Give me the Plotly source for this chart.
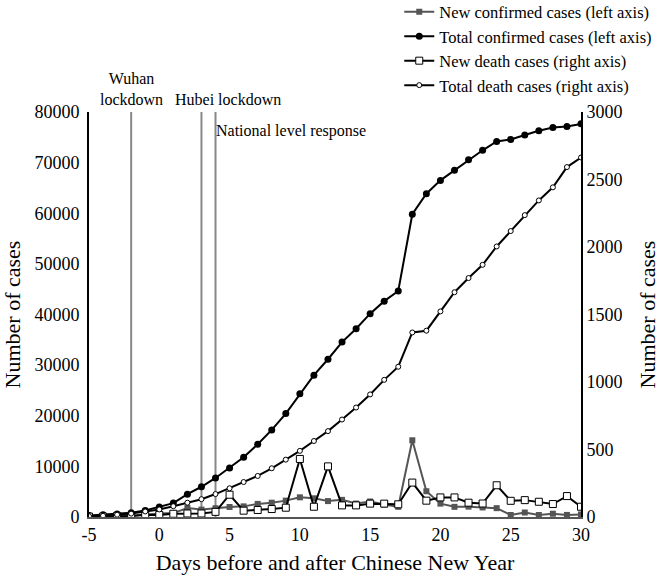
import plotly.graph_objects as go

# Dias relativos ao Ano Novo Chinês
days = list(range(-5, 31))

new_confirmed = [77, 149, 131, 259, 444, 688, 769, 1771, 1459, 1737,
                 1982, 2102, 2590, 2829, 3235, 3887, 3694, 3143, 3385, 2652,
                 3062, 2478, 2015, 15152, 5090, 2641, 2009, 2048, 1886, 1749,
                 394, 889, 397, 648, 409, 508]

total_confirmed = [291, 440, 571, 830, 1287, 1975, 2744, 4515, 5974, 7711,
                   9692, 11791, 14380, 17205, 20438, 24324, 28018, 31161, 34546, 37198,
                   40171, 42638, 44653, 59804, 63851, 66492, 68500, 70548, 72436, 74185,
                   74576, 75465, 76288, 76936, 77150, 77658]

new_deaths = [3, 3, 8, 8, 16, 15, 24, 26, 26, 38,
              165, 47, 52, 59, 69, 430, 76, 375, 86, 86,
              99, 99, 94, 255, 121, 145, 145, 106, 100, 235,
              120, 125, 113, 96, 155, 76]

total_deaths = [6, 9, 17, 25, 41, 56, 80, 106, 132, 170,
                213, 259, 304, 361, 425, 490, 563, 636, 722, 811,
                908, 1016, 1113, 1367, 1380, 1523, 1665, 1770, 1868, 2004,
                2118, 2236, 2345, 2442, 2592, 2663]

x_ticks = [-5, 0, 5, 10, 15, 20, 25, 30]
left_ticks = [0, 10000, 20000, 30000, 40000, 50000, 60000, 70000, 80000]
right_ticks = [0, 500, 1000, 1500, 2000, 2500, 3000]

event_days = [-2, 3, 4]

FONT = "Liberation Serif, Times New Roman, serif"

fig = go.Figure()

fig.add_trace(go.Scatter(
    x=days, y=new_confirmed, name='New confirmed cases (left axis)',
    mode='lines+markers',
    line=dict(color='#555555', width=2),
    marker=dict(symbol='square', size=6, color='#555555')
))

fig.add_trace(go.Scatter(
    x=days, y=total_confirmed, name='Total confirmed cases (left axis)',
    mode='lines+markers',
    line=dict(color='black', width=2),
    marker=dict(symbol='circle', size=7, color='black')
))

fig.add_trace(go.Scatter(
    x=days, y=new_deaths, name='New death cases (right axis)',
    mode='lines+markers', yaxis='y2',
    line=dict(color='black', width=2),
    marker=dict(symbol='square', size=7, color='white',
                line=dict(color='black', width=1))
))

fig.add_trace(go.Scatter(
    x=days, y=total_deaths, name='Total death cases (right axis)',
    mode='lines+markers', yaxis='y2',
    line=dict(color='black', width=2),
    marker=dict(symbol='circle', size=5, color='white',
                line=dict(color='black', width=1))
))

# Linhas verticais dos eventos
for d in event_days:
    fig.add_shape(type='line', xref='x', yref='y', x0=d, x1=d, y0=0, y1=80000,
                  line=dict(color='#888888', width=2), layer='below')

fig.add_annotation(x=event_days[0], y=80000, xref='x', yref='y',
                   text='Wuhan<br>lockdown', showarrow=False,
                   xanchor='center', yanchor='bottom', yshift=2,
                   font=dict(size=16, family=FONT, color='black'))
fig.add_annotation(x=event_days[1], y=80000, xref='x', yref='y',
                   text='Hubei lockdown', showarrow=False,
                   xanchor='left', yanchor='bottom', xshift=-28, yshift=2,
                   font=dict(size=16, family=FONT, color='black'))
fig.add_annotation(x=event_days[2], y=80000, xref='x', yref='y',
                   text='National level response', showarrow=False,
                   xanchor='left', yanchor='top', xshift=-2, yshift=-8,
                   font=dict(size=16, family=FONT, color='black'))

fig.update_layout(
    width=661, height=575,
    margin=dict(l=89, r=80, t=112, b=58, autoexpand=False),
    paper_bgcolor='white', plot_bgcolor='white',
    font=dict(family=FONT, size=18, color='black'),
    showlegend=True,
    legend=dict(x=1.155, y=1.29, xanchor='right', yanchor='top',
                bgcolor='rgba(0,0,0,0)', font=dict(size=16.5, family=FONT),
                tracegroupgap=0),
    xaxis=dict(
        range=[-5, 30], tickvals=x_ticks, ticktext=[str(v) for v in x_ticks],
        showgrid=False, zeroline=False, showline=True, automargin=False,
        linecolor='#555555', linewidth=2, ticks='',
        title=dict(text='Days before and after Chinese New Year', standoff=14)
    ),
    yaxis=dict(
        range=[0, 80000], tickvals=left_ticks, ticktext=[str(v) for v in left_ticks],
        showgrid=False, zeroline=False, showline=True, automargin=False,
        linecolor='black', linewidth=2,
        ticks='outside', ticklen=4, tickcolor='rgba(0,0,0,0)',
        title=dict(text='Number of cases', standoff=10)
    ),
    yaxis2=dict(
        range=[0, 3000], tickvals=right_ticks, ticktext=[str(v) for v in right_ticks],
        overlaying='y', side='right',
        showgrid=False, zeroline=False, showline=True, automargin=False,
        linecolor='black', linewidth=2, ticks='',
        title=dict(text='Number of cases', standoff=18)
    )
)

fig.write_html("out.html", config={'displayModeBar': False},
               post_script="document.body.style.margin='0';")
